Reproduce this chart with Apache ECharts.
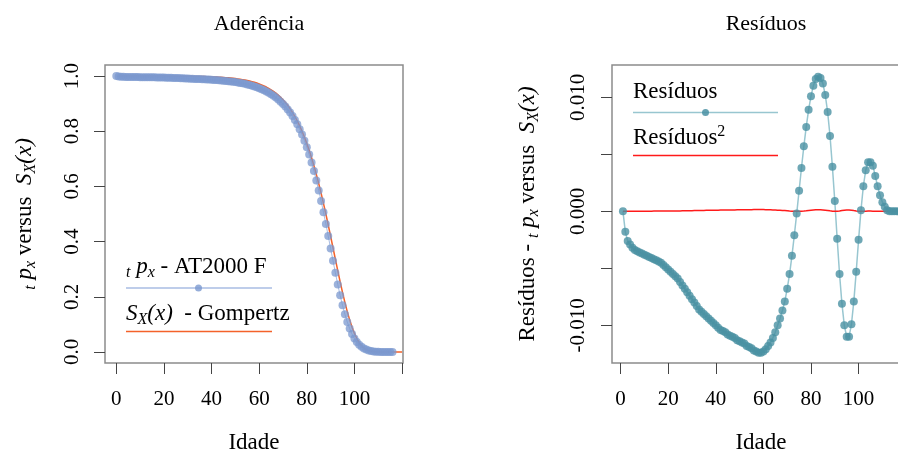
<!DOCTYPE html>
<html>
<head>
<meta charset="utf-8">
<script src="https://cdn.jsdelivr.net/npm/echarts@6/dist/echarts.min.js"></script>
<style>
html, body { margin: 0; background: #fff; }
#chart { width: 898px; height: 454px; }
</style>
</head>
<body>
<div id="chart"></div>
<script>
// tpx - AT2000 F, idades 0..116
var survival = [
    1.0000, 0.9982, 0.9974, 0.9971, 0.9968, 0.9966, 0.9965, 0.9964, 0.9962, 0.9961,
    0.9960, 0.9959, 0.9958, 0.9957, 0.9956, 0.9954, 0.9953, 0.9951, 0.9949, 0.9946,
    0.9944, 0.9941, 0.9939, 0.9936, 0.9933, 0.9929, 0.9925, 0.9922, 0.9918, 0.9914,
    0.9910, 0.9905, 0.9901, 0.9897, 0.9893, 0.9889, 0.9885, 0.9880, 0.9876, 0.9870,
    0.9865, 0.9859, 0.9853, 0.9847, 0.9840, 0.9832, 0.9824, 0.9815, 0.9804, 0.9793,
    0.9781, 0.9768, 0.9752, 0.9735, 0.9717, 0.9696, 0.9673, 0.9648, 0.9621, 0.9591,
    0.9560, 0.9525, 0.9486, 0.9443, 0.9396, 0.9344, 0.9285, 0.9220, 0.9148, 0.9070,
    0.8985, 0.8893, 0.8790, 0.8676, 0.8550, 0.8408, 0.8251, 0.8074, 0.7877, 0.7659,
    0.7419, 0.7154, 0.6866, 0.6555, 0.6217, 0.5856, 0.5473, 0.5066, 0.4641, 0.4202,
    0.3752, 0.3306, 0.2869, 0.2445, 0.2051, 0.1689, 0.1364, 0.1084, 0.0846, 0.0647,
    0.0487, 0.0361, 0.0261, 0.0186, 0.0129, 0.0089, 0.0057, 0.0035, 0.0020, 0.0010,
    0.0005, 0.0001, 0.0000, 0.0000, 0.0000, 0.0000, 0.0000
];

// S_X(x) - Gompertz, desenhada em x = 1..120
var gompertz = [
    1.0000, 1.0000, 1.0000, 1.0000, 1.0000, 1.0000, 1.0000, 1.0000, 0.9999, 0.9999,
    0.9999, 0.9999, 0.9999, 0.9999, 0.9999, 0.9998, 0.9998, 0.9998, 0.9998, 0.9997,
    0.9997, 0.9996, 0.9996, 0.9995, 0.9995, 0.9994, 0.9993, 0.9993, 0.9992, 0.9991,
    0.9990, 0.9988, 0.9987, 0.9985, 0.9983, 0.9981, 0.9979, 0.9976, 0.9974, 0.9970,
    0.9967, 0.9963, 0.9958, 0.9953, 0.9948, 0.9941, 0.9934, 0.9926, 0.9917, 0.9907,
    0.9896, 0.9884, 0.9870, 0.9854, 0.9837, 0.9818, 0.9796, 0.9772, 0.9745, 0.9714,
    0.9681, 0.9643, 0.9601, 0.9554, 0.9502, 0.9444, 0.9379, 0.9307, 0.9227, 0.9138,
    0.9040, 0.8932, 0.8811, 0.8678, 0.8532, 0.8370, 0.8194, 0.8000, 0.7788, 0.7558,
    0.7309, 0.7038, 0.6748, 0.6438, 0.6105, 0.5754, 0.5386, 0.5000, 0.4602, 0.4193,
    0.3776, 0.3361, 0.2950, 0.2545, 0.2161, 0.1799, 0.1463, 0.1163, 0.0899, 0.0672,
    0.0486, 0.0339, 0.0225, 0.0143, 0.0086, 0.0049, 0.0026, 0.0013, 0.0006, 0.0002,
    0.0001, 0.0000, 0.0000, 0.0000, 0.0000, 0.0000, 0.0000, 0.0000, 0.0000, 0.0000
];

// residuos, indice 1..117
var residuals = [
     0.0000, -0.0018, -0.0026, -0.0029, -0.0032, -0.0034, -0.0035, -0.0036, -0.0037, -0.0038,
    -0.0039, -0.0040, -0.0041, -0.0042, -0.0043, -0.0044, -0.0045, -0.0047, -0.0049, -0.0051,
    -0.0053, -0.0055, -0.0057, -0.0059, -0.0062, -0.0065, -0.0068, -0.0071, -0.0074, -0.0077,
    -0.0080, -0.0083, -0.0086, -0.0088, -0.0090, -0.0092, -0.0094, -0.0096, -0.0098, -0.0100,
    -0.0102, -0.0104, -0.0105, -0.0106, -0.0108, -0.0109, -0.0110, -0.0111, -0.0113, -0.0114,
    -0.0115, -0.0116, -0.0118, -0.0119, -0.0120, -0.0122, -0.0123, -0.0124, -0.0124, -0.0123,
    -0.0121, -0.0118, -0.0115, -0.0111, -0.0106, -0.0100, -0.0094, -0.0087, -0.0079, -0.0068,
    -0.0055, -0.0039, -0.0021, -0.0002,  0.0018,  0.0038,  0.0057,  0.0074,  0.0089,  0.0101,
     0.0110,  0.0116,  0.0118,  0.0117,  0.0112,  0.0102,  0.0087,  0.0066,  0.0039,  0.0009,
    -0.0024, -0.0055, -0.0081, -0.0100, -0.0110, -0.0110, -0.0099, -0.0079, -0.0053, -0.0025,
     0.0001,  0.0022,  0.0036,  0.0043,  0.0043,  0.0040,  0.0031,  0.0022,  0.0014,  0.0008,
     0.0004,  0.0001,  0.0000,  0.0000,  0.0000,  0.0000,  0.0000
];

// residuos^2, indice 1..117
var residualsSq = [
    0, 0.000003, 0.000007, 0.000008, 0.000010, 0.000012, 0.000012, 0.000013, 0.000014, 0.000014,
    0.000015, 0.000016, 0.000017, 0.000018, 0.000018, 0.000019, 0.000020, 0.000022, 0.000024, 0.000026,
    0.000028, 0.000030, 0.000032, 0.000035, 0.000038, 0.000042, 0.000046, 0.000050, 0.000055, 0.000059,
    0.000064, 0.000069, 0.000074, 0.000077, 0.000081, 0.000085, 0.000088, 0.000092, 0.000096, 0.000100,
    0.000104, 0.000108, 0.000110, 0.000112, 0.000117, 0.000119, 0.000121, 0.000123, 0.000128, 0.000130,
    0.000132, 0.000135, 0.000139, 0.000142, 0.000144, 0.000149, 0.000151, 0.000154, 0.000154, 0.000151,
    0.000146, 0.000139, 0.000132, 0.000123, 0.000112, 0.000100, 0.000088, 0.000076, 0.000062, 0.000046,
    0.000030, 0.000015, 0.000004, 0, 0.000003, 0.000014, 0.000032, 0.000055, 0.000079, 0.000102,
    0.000121, 0.000135, 0.000139, 0.000137, 0.000125, 0.000104, 0.000076, 0.000044, 0.000015, 0.000001,
    0.000006, 0.000030, 0.000066, 0.000100, 0.000121, 0.000121, 0.000098, 0.000062, 0.000028, 0.000006,
    0, 0.000005, 0.000013, 0.000018, 0.000018, 0.000016, 0.000010, 0.000005, 0.000002, 0.000001,
    0, 0, 0, 0, 0, 0, 0
];

var xTicks = [0, 20, 40, 60, 80, 100, 120];
var xLabels = [0, 20, 40, 60, 80, 100];
var leftYTicks = [0, 0.2, 0.4, 0.6, 0.8, 1.0];
var rightYTicks = [-0.01, -0.005, 0, 0.005, 0.01];
var rightYLabels = [-0.01, 0, 0.01];

var FONT = 'Liberation Serif';
var richMath = {
    it: { fontFamily: FONT, fontStyle: 'italic', fontSize: 23, lineHeight: 28, color: '#000' },
    sub: { fontFamily: FONT, fontStyle: 'italic', fontSize: 16, lineHeight: 16, verticalAlign: 'bottom', color: '#000' },
    sup: { fontFamily: FONT, fontSize: 16, lineHeight: 16, verticalAlign: 'top', color: '#000' }
};
var mathName = '{sub|t} {it|p}{sub|x} versus  {it|S}{sub|X}{it|(x)}';

function xAxisOf(idx, min, max) {
    return {
        type: 'value', gridIndex: idx, min: min, max: max,
        name: 'Idade', nameLocation: 'middle', nameGap: 68,
        nameTextStyle: { fontFamily: FONT, fontSize: 23, color: '#000' },
        axisLine: { show: false, onZero: false },
        axisTick: { show: true, length: 11, customValues: xTicks, lineStyle: { color: '#444' } },
        axisLabel: { customValues: xLabels, margin: 26, fontFamily: FONT, fontSize: 21, color: '#000' },
        splitLine: { show: false }
    };
}

var chart = echarts.init(document.getElementById('chart'));
var option = {
    backgroundColor: '#fff',
    animation: false,
    title: [
        { text: 'Aderência', left: 254, top: 8, textAlign: 'center',
          textStyle: { fontFamily: FONT, fontSize: 22, fontWeight: 'normal', color: '#000' } },
        { text: 'Resíduos', left: 761, top: 8, textAlign: 'center',
          textStyle: { fontFamily: FONT, fontSize: 22, fontWeight: 'normal', color: '#000' } }
    ],
    grid: [
        { left: 105, top: 65, width: 298, height: 298, outerBoundsMode: 'none',
          show: true, borderColor: '#8c8c8c', borderWidth: 1.5 },
        { left: 612, top: 65, width: 298, height: 298, outerBoundsMode: 'none',
          show: true, borderColor: '#8c8c8c', borderWidth: 1.5 }
    ],
    xAxis: [xAxisOf(0, -4.75, 120.4), xAxisOf(1, -3.6, 121.6)],
    yAxis: [
        {
            type: 'value', gridIndex: 0, min: -0.04, max: 1.04,
            name: mathName, nameLocation: 'middle', nameGap: 66,
            nameTextStyle: { fontFamily: FONT, fontSize: 23, lineHeight: 28, color: '#000', rich: richMath },
            axisLine: { show: false, onZero: false },
            axisTick: { show: true, length: 11, customValues: leftYTicks, lineStyle: { color: '#444' } },
            axisLabel: {
                customValues: leftYTicks, rotate: 90, margin: 22,
                fontFamily: FONT, fontSize: 21, color: '#000',
                formatter: function (v) { return v.toFixed(1); }
            },
            splitLine: { show: false }
        },
        {
            type: 'value', gridIndex: 1, min: -0.0133, max: 0.01283,
            name: 'Resíduos - ' + mathName, nameLocation: 'middle', nameGap: 70,
            nameTextStyle: { fontFamily: FONT, fontSize: 23, lineHeight: 28, color: '#000', rich: richMath },
            axisLine: { show: false, onZero: false },
            axisTick: { show: true, length: 11, customValues: rightYTicks, lineStyle: { color: '#444' } },
            axisLabel: {
                customValues: rightYLabels, rotate: 90, margin: 23,
                fontFamily: FONT, fontSize: 21, color: '#000',
                formatter: function (v) { return v.toFixed(3); }
            },
            splitLine: { show: false }
        }
    ],
    series: [
        {
            name: 'tpx', type: 'line', xAxisIndex: 0, yAxisIndex: 0,
            data: survival.map(function (v, i) { return [i, v]; }),
            symbol: 'circle', symbolSize: 8, showAllSymbol: true,
            lineStyle: { color: '#a9bde3', width: 1 },
            itemStyle: { color: '#7b98cf', opacity: 0.75 }
        },
        {
            name: 'Gompertz', type: 'line', xAxisIndex: 0, yAxisIndex: 0,
            data: gompertz.map(function (v, i) { return [i + 1, v]; }),
            symbol: 'none', lineStyle: { color: '#f4622a', width: 1.5 }
        },
        {
            name: 'Resíduos', type: 'line', xAxisIndex: 1, yAxisIndex: 1,
            data: residuals.map(function (v, i) { return [i + 1, v]; }),
            symbol: 'circle', symbolSize: 8, showAllSymbol: true,
            lineStyle: { color: '#98c6d0', width: 1.5 },
            itemStyle: { color: '#4a91a3', opacity: 0.8 }
        },
        {
            name: 'Resíduos2', type: 'line', xAxisIndex: 1, yAxisIndex: 1,
            data: residualsSq.map(function (v, i) { return [i + 1, v]; }),
            symbol: 'none', lineStyle: { color: '#ff1a1a', width: 1.5 }
        }
    ],
    graphic: [
        // legenda esquerda
        { type: 'text', left: 126, top: 253, style: {
            text: '{sub|t} {it|p}{sub|x} - AT2000 F', rich: richMath,
            fontFamily: FONT, fontSize: 23, lineHeight: 28, fill: '#000' } },
        { type: 'line', shape: { x1: 126, y1: 288, x2: 272, y2: 288 }, style: { stroke: '#a9bde3', lineWidth: 1.5 } },
        { type: 'circle', shape: { cx: 198.5, cy: 288, r: 3.5 }, style: { fill: '#7b98cf', opacity: 0.8 } },
        { type: 'text', left: 126, top: 300, style: {
            text: '{it|S}{sub|X}{it|(x)}  - Gompertz', rich: richMath,
            fontFamily: FONT, fontSize: 23, lineHeight: 28, fill: '#000' } },
        { type: 'line', shape: { x1: 126, y1: 331.5, x2: 272, y2: 331.5 }, style: { stroke: '#f4622a', lineWidth: 1.5 } },
        // legenda direita
        { type: 'text', left: 633, top: 80, style: {
            text: 'Resíduos', fontFamily: FONT, fontSize: 23, fill: '#000' } },
        { type: 'line', shape: { x1: 633, y1: 112.5, x2: 778, y2: 112.5 }, style: { stroke: '#98c6d0', lineWidth: 1.5 } },
        { type: 'circle', shape: { cx: 705.5, cy: 112.5, r: 3.5 }, style: { fill: '#4a91a3', opacity: 0.85 } },
        { type: 'text', left: 633, top: 124, style: {
            text: 'Resíduos{sup|2}', rich: richMath, fontFamily: FONT, fontSize: 23, lineHeight: 28, fill: '#000' } },
        { type: 'line', shape: { x1: 633, y1: 155.5, x2: 778, y2: 155.5 }, style: { stroke: '#ff1a1a', lineWidth: 1.5 } }
    ]
};
chart.setOption(option);
</script>
</body>
</html>
